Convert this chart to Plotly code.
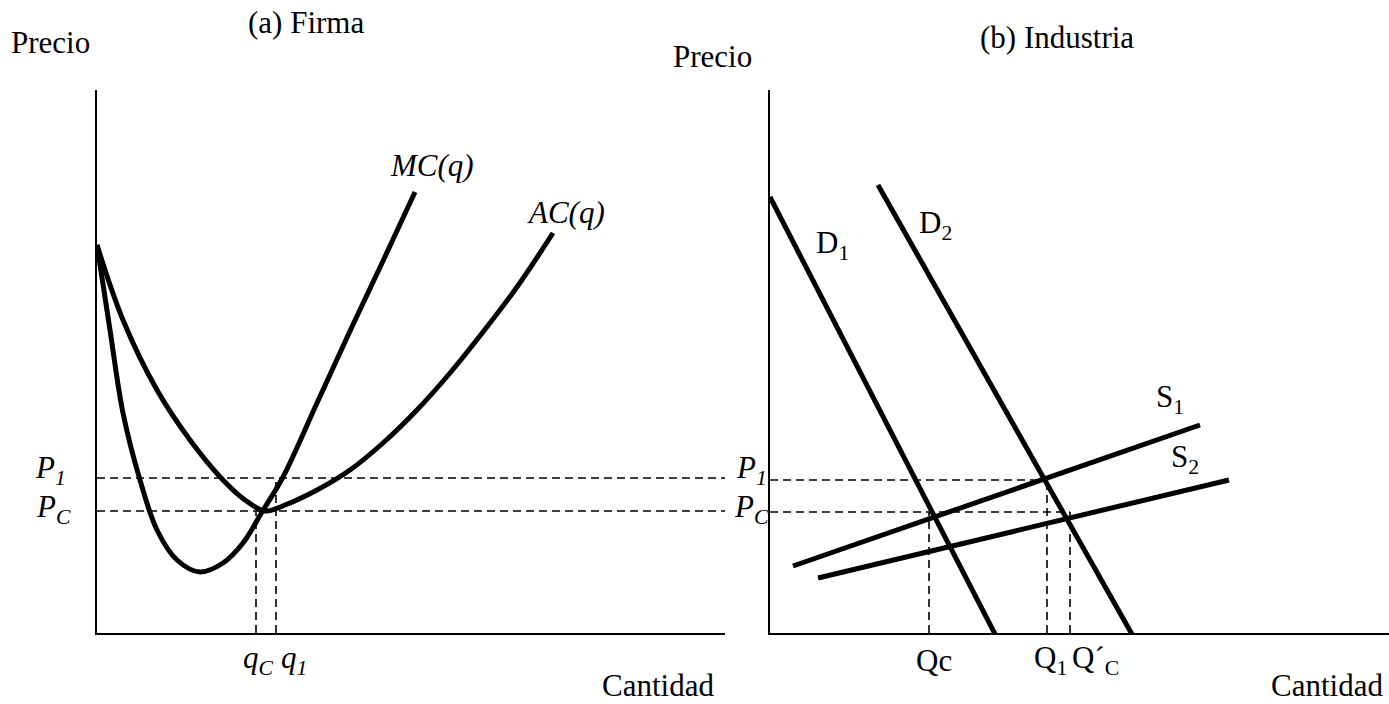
import plotly.graph_objects as go

W, H = 1389, 704

# ---------------- Data: (a) Firma ----------------
mc_q = [0, 1.3, 2.6, 4.3, 6.0, 8.0, 10.3, 12.6, 14.6, 16.5, 18.6, 22.0, 25.3, 28.6, 31.8]
mc_cost = [38.8, 30.3, 22.0, 15.3, 10.3, 7.3, 6.1, 7.0, 9.0, 12.1, 15.6, 23.0, 30.2, 37.2, 44.1]
ac_q = [0, 2.6, 6.0, 9.3, 12.6, 14.8, 16.8, 18.8, 22.0, 25.3, 28.6, 32.0, 35.3, 38.6, 42.0, 45.6]
ac_cost = [38.8, 31.3, 24.3, 19.3, 15.3, 13.3, 12.2, 12.8, 14.3, 16.3, 19.0, 22.3, 26.0, 30.1, 34.6, 40.0]
firm_P1, firm_PC = 15.5, 12.2
firm_qC, firm_q1 = 15.9, 17.9
firm_xmax, firm_ymax = 62.8, 54.3

# ---------------- Data: (b) Industria ----------------
d1_Q = [0, 22.6]
d1_P = [43.6, -0.3]
d2_Q = [10.8, 36.3]
d2_P = [44.8, -0.3]
s1_Q = [2.3, 43.0]
s1_P = [6.7, 20.8]
s2_Q = [4.8, 45.9]
s2_P = [5.5, 15.3]
ind_P1, ind_PC = 15.3, 12.1
ind_Qc, ind_Q1, ind_QpC = 15.9, 27.7, 30.0
ind_xmax, ind_ymax = 61.9, 54.3

FONT = "Liberation Serif"
FS = 31
BLACK = "black"

fig = go.Figure()

def curve(x, y, xa, ya, width=5, shape="linear", dash=None):
    fig.add_trace(go.Scatter(
        x=x, y=y, mode="lines", xaxis=xa, yaxis=ya, hoverinfo="skip",
        line=dict(color=BLACK, width=width, shape=shape, dash=dash),
        showlegend=False))

DASH = "8px,5px"
DW = 1.6
# Firm panel
curve(mc_q, mc_cost, "x", "y", shape="spline")
curve(ac_q, ac_cost, "x", "y", shape="spline")
curve([0, firm_xmax], [firm_P1, firm_P1], "x", "y", width=DW, dash=DASH)
curve([0, firm_xmax], [firm_PC, firm_PC], "x", "y", width=DW, dash=DASH)
curve([firm_qC, firm_qC], [0, firm_PC], "x", "y", width=DW, dash=DASH)
curve([firm_q1, firm_q1], [0, firm_P1], "x", "y", width=DW, dash=DASH)

# Industry panel
curve(d1_Q, d1_P, "x2", "y2")
curve(d2_Q, d2_P, "x2", "y2")
curve(s1_Q, s1_P, "x2", "y2")
curve(s2_Q, s2_P, "x2", "y2")
curve([0, ind_Q1], [ind_P1, ind_P1], "x2", "y2", width=DW, dash=DASH)
curve([0, ind_QpC], [ind_PC, ind_PC], "x2", "y2", width=DW, dash=DASH)
curve([ind_Qc, ind_Qc], [0, ind_PC], "x2", "y2", width=DW, dash=DASH)
curve([ind_Q1, ind_Q1], [0, ind_P1], "x2", "y2", width=DW, dash=DASH)
curve([ind_QpC, ind_QpC], [0, ind_PC], "x2", "y2", width=DW, dash=DASH)

axis_common = dict(showgrid=False, zeroline=False, showticklabels=False, ticks="",
                   showline=True, linecolor=BLACK, linewidth=2, fixedrange=True)
ydom = [(H - 633) / H, (H - 90) / H]
fig.update_layout(
    width=W, height=H,
    margin=dict(l=0, r=0, t=0, b=0),
    paper_bgcolor="white", plot_bgcolor="white",
    xaxis=dict(domain=[97 / W, 725 / W], range=[0, firm_xmax], anchor="y", **axis_common),
    yaxis=dict(domain=ydom, range=[0, firm_ymax], anchor="x", **axis_common),
    xaxis2=dict(domain=[770 / W, 1.0], range=[0, ind_xmax], anchor="y2", **axis_common),
    yaxis2=dict(domain=ydom, range=[0, ind_ymax], anchor="x2", **axis_common),
)

def px_x(p):
    return p / W

def px_y(p):
    return 1 - p / H

anns = []

def text(t, x, y, xanchor="center", yanchor="middle", size=FS):
    anns.append(dict(text=t, x=px_x(x), y=px_y(y), xref="paper", yref="paper",
                     xanchor=xanchor, yanchor=yanchor, showarrow=False, borderpad=0,
                     font=dict(family=FONT, size=size, color=BLACK)))

# Titles and axis names
text("Precio", 50, 42)
text("(a) Firma", 306, 22)
text("Precio", 712, 56)
text("(b) Industria", 1057, 38)
text("Cantidad", 658, 704, yanchor="bottom")
text("Cantidad", 1327, 704, yanchor="bottom")

# Curve labels
text("<i>MC(q)</i>", 432, 165)
text("<i>AC(q)</i>", 566, 213)
text("D<sub>1</sub>", 832, 245)
text("D<sub>2</sub>", 935, 225)
text("S<sub>1</sub>", 1170, 399)
text("S<sub>2</sub>", 1185, 459)

# Level labels tied to the axes' scales
def ylab(t, xr, yval, yref, yshift):
    anns.append(dict(text=t, x=px_x(xr), y=yval, xref="paper", yref=yref,
                     xanchor="right", yanchor="middle", yshift=yshift, showarrow=False,
                     font=dict(family=FONT, size=FS, color=BLACK)))

def xlab(t, xval, xref, xshift):
    anns.append(dict(text=t, x=xval, y=px_y(660), xref=xref, yref="paper",
                     xanchor="center", yanchor="middle", xshift=xshift, showarrow=False,
                     font=dict(family=FONT, size=FS, color=BLACK)))

ylab("<i>P<sub>1</sub></i>", 68, firm_P1, "y", 8)
ylab("<i>P<sub>C</sub></i>", 73, firm_PC, "y", 2)
ylab("<i>P<sub>1</sub></i>", 769, ind_P1, "y2", 10)
ylab("<i>P<sub>C</sub></i>", 771, ind_PC, "y2", 3)

xlab("<i>q<sub>C</sub></i>", firm_qC, "x", 2)
xlab("<i>q<sub>1</sub></i>", firm_q1, "x", 18)
xlab("Qc", ind_Qc, "x2", 5)
xlab("Q<sub>1</sub>", ind_Q1, "x2", 3)
xlab("Q´<sub>C</sub>", ind_QpC, "x2", 25)

fig.update_layout(annotations=anns)
fig.write_html("out.html", config={"displayModeBar": False},
               post_script="document.body.style.margin='0';document.body.style.overflow='hidden';")
